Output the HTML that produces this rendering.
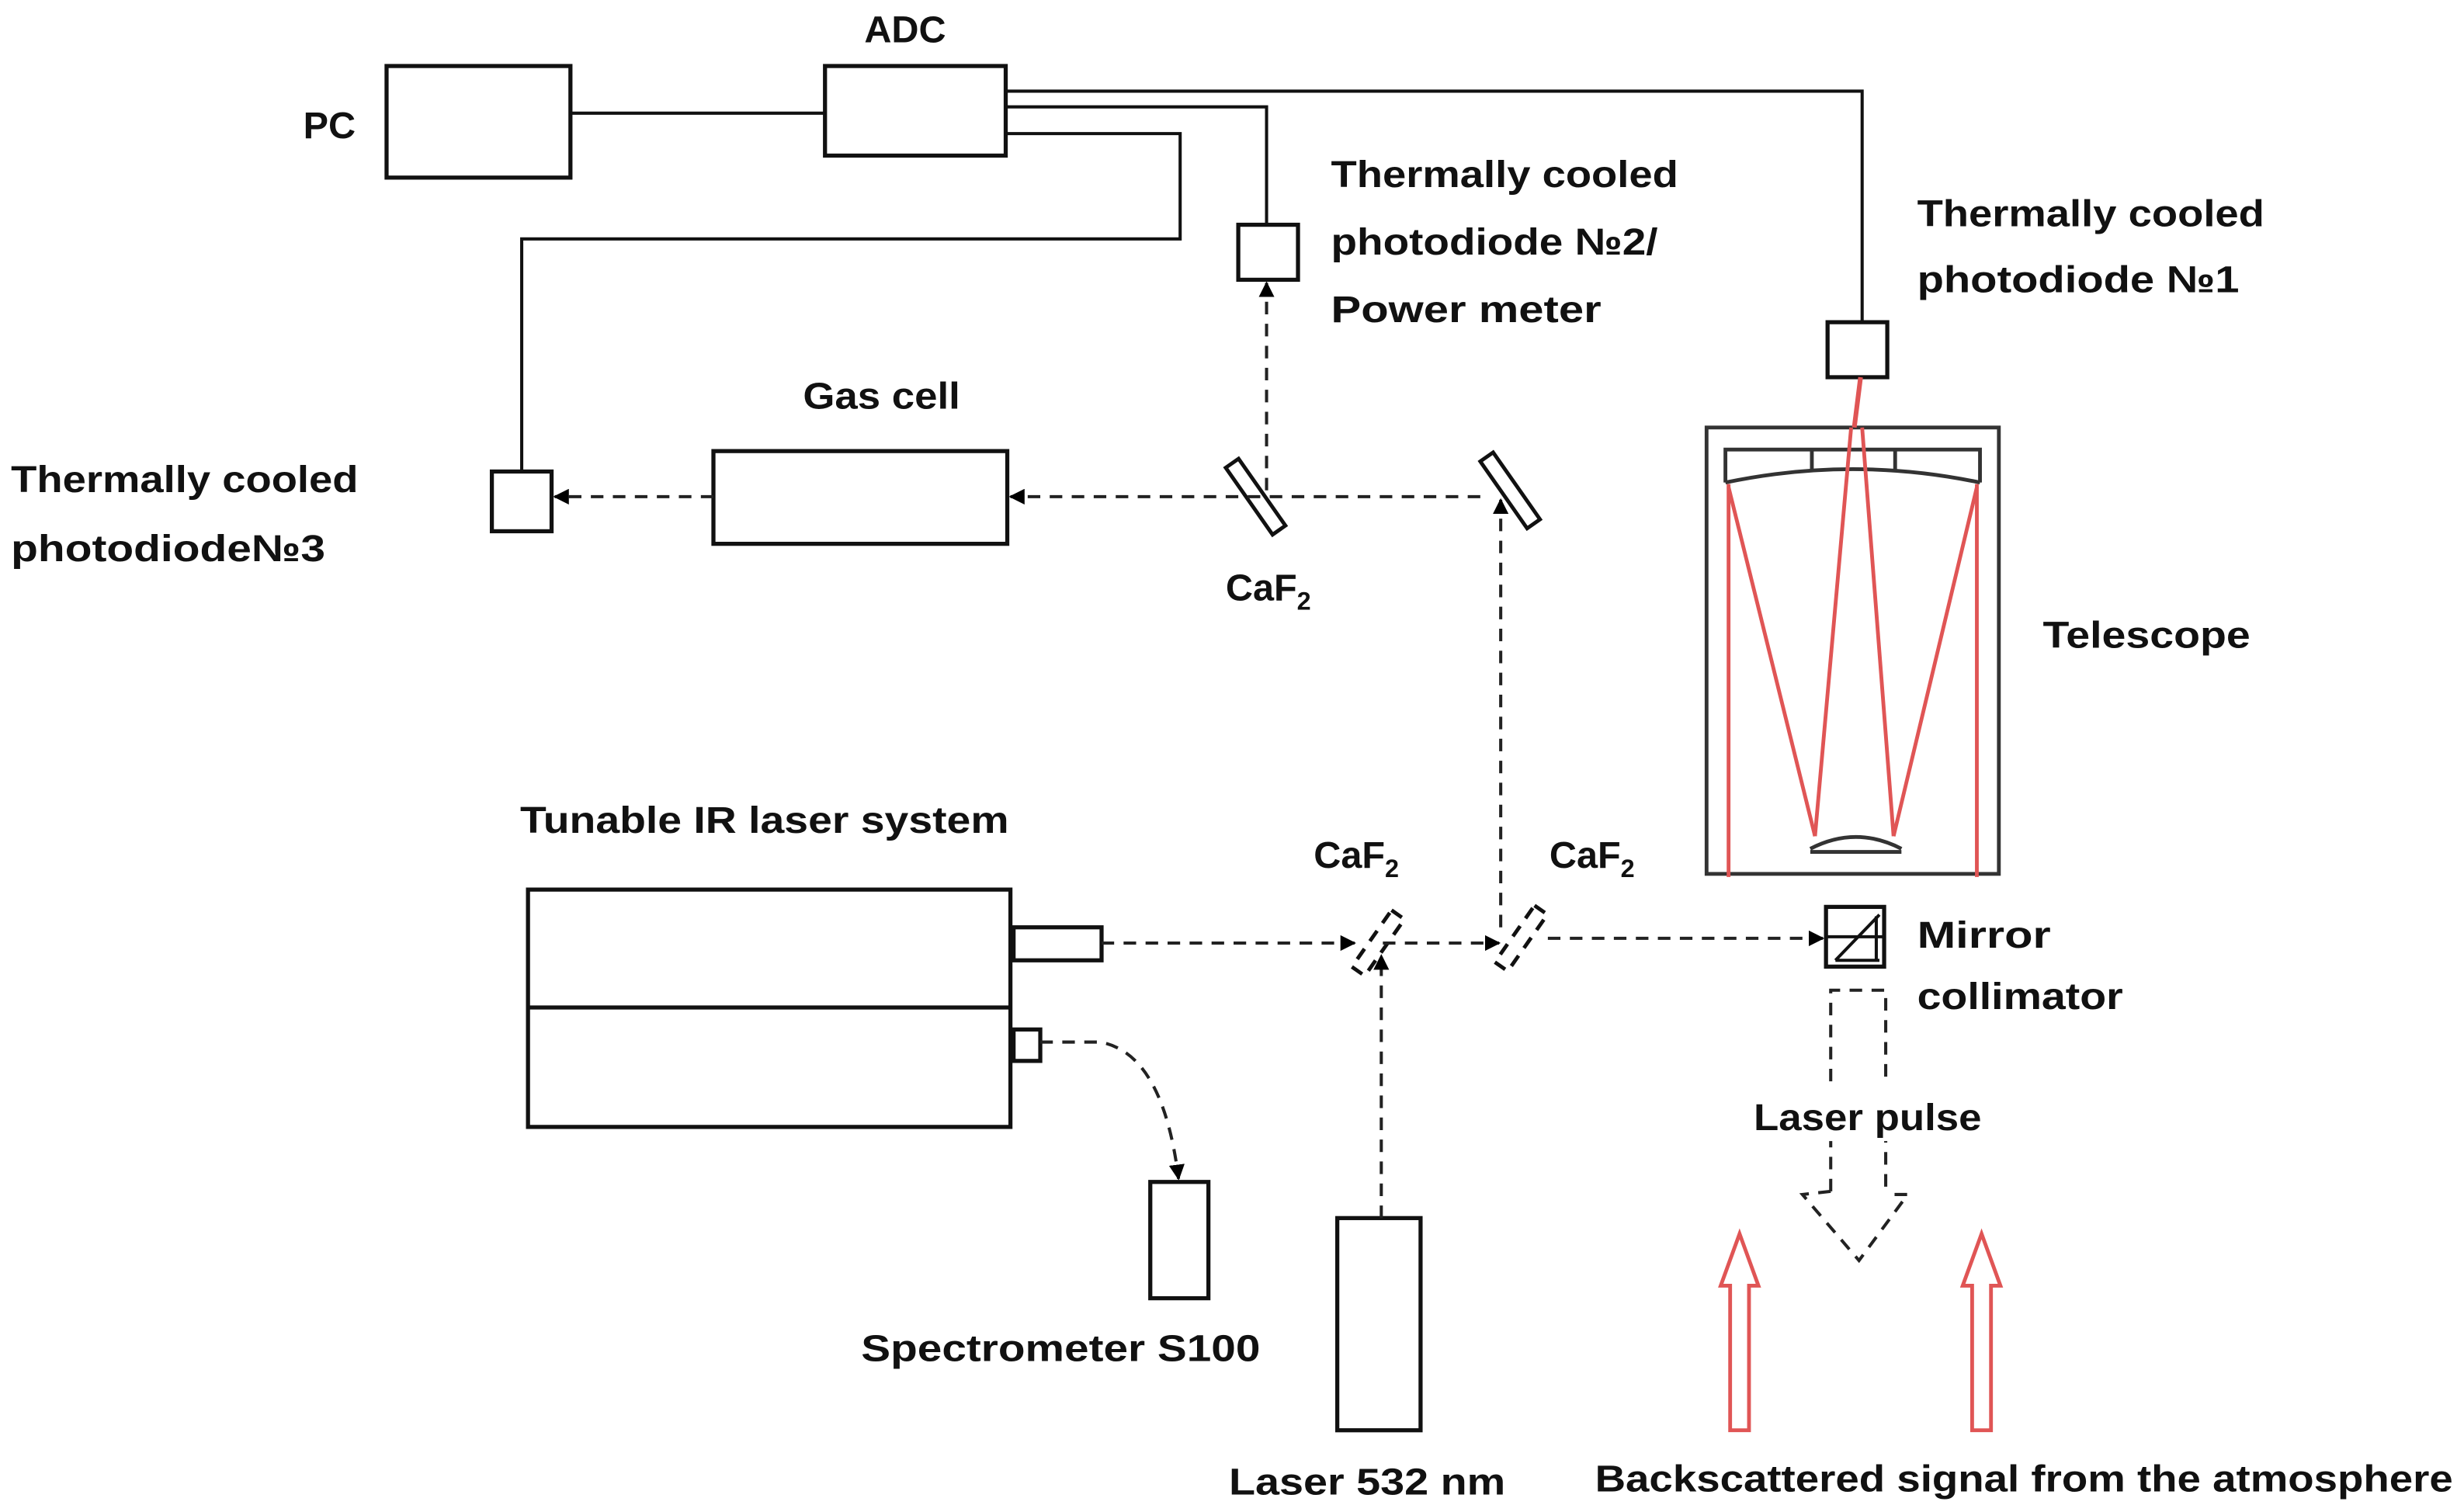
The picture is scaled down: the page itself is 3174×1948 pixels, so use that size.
<!DOCTYPE html>
<html><head><meta charset="utf-8"><style>
html,body{margin:0;padding:0;background:#fff;width:3174px;height:1948px;overflow:hidden}
svg{display:block}
text{font-family:"Liberation Sans",sans-serif;font-weight:bold;fill:#111}
</style></head><body>
<svg width="3174" height="1948" viewBox="0 0 1568 962" preserveAspectRatio="none">
<defs>
<marker id="a" markerWidth="10" markerHeight="10" refX="9" refY="5" orient="auto" markerUnits="userSpaceOnUse"><path d="M0,0 L10,5 L0,10 z" fill="#000"/></marker>
</defs>
<g fill="none" stroke="#111" stroke-width="2.6">
<rect x="246" y="42" width="117" height="71"/>
<rect x="525" y="42" width="115" height="57"/>
<rect x="454" y="287" width="187" height="59"/>
<rect x="336" y="566" width="307" height="151"/>
<line x1="336" y1="641" x2="643" y2="641"/>
<rect x="645" y="590" width="56" height="21"/>
<rect x="645" y="655" width="17" height="20"/>
<rect x="732" y="752" width="37" height="74"/>
<rect x="851" y="775" width="53" height="135"/>
<rect x="788" y="143" width="38" height="35"/>
<rect x="1163" y="205" width="38" height="35"/>
<rect x="313" y="300" width="38" height="38"/>
<rect x="1162" y="577" width="37" height="38"/>
</g>
<g fill="none" stroke="#111" stroke-width="2">
<line x1="363" y1="72" x2="525" y2="72"/>
<polyline points="640,58 1185,58 1185,205"/>
<polyline points="640,68 806,68 806,143"/>
<polyline points="640,85 751,85 751,152 332,152 332,300"/>
<line x1="1162" y1="596" x2="1199" y2="596"/>
<line x1="1168" y1="611" x2="1196" y2="582"/>
<line x1="1168" y1="611" x2="1196" y2="611"/>
<line x1="1194" y1="583" x2="1194" y2="611"/>
</g>
<rect x="794" y="290" width="10" height="52" transform="rotate(-35 799 316)" fill="none" stroke="#111" stroke-width="2.4"/>
<rect x="956" y="286" width="10" height="52" transform="rotate(-35 961 312)" fill="none" stroke="#111" stroke-width="2.4"/>
<rect x="872" y="578" width="10" height="44" transform="rotate(35 877 600)" fill="none" stroke="#111" stroke-width="2.4" stroke-dasharray="8 6"/>
<rect x="963" y="575" width="10" height="44" transform="rotate(35 968 597)" fill="none" stroke="#111" stroke-width="2.4" stroke-dasharray="8 6"/>
<g fill="none" stroke="#222" stroke-width="2" stroke-dasharray="8 6">
<line x1="942" y1="316" x2="643" y2="316" marker-end="url(#a)"/>
<line x1="454" y1="316" x2="353" y2="316" marker-end="url(#a)"/>
<line x1="806" y1="312" x2="806" y2="180" marker-end="url(#a)"/>
<line x1="955" y1="590" x2="955" y2="318" marker-end="url(#a)"/>
<line x1="701" y1="600" x2="862" y2="600" marker-end="url(#a)"/>
<line x1="880" y1="600" x2="954" y2="600" marker-end="url(#a)"/>
<line x1="985" y1="597" x2="1160" y2="597" marker-end="url(#a)"/>
<line x1="879" y1="775" x2="879" y2="608" marker-end="url(#a)"/>
<path d="M662,663 L700,663 Q740,670 750,750" marker-end="url(#a)"/>
<polyline points="1165,758 1165,630 1200,630 1200,758"/>
<polyline points="1165,758 1147,760 1183,802 1214,760 1200,760"/>
</g>
<rect x="1112" y="690" width="152" height="36" fill="#fff"/>
<g fill="none" stroke="#333" stroke-width="2.4">
<rect x="1086" y="272" width="186" height="284"/>
<path d="M1098,307 L1098,286 L1260,286 L1260,307"/>
<line x1="1153" y1="286" x2="1153" y2="300"/>
<line x1="1206" y1="286" x2="1206" y2="300"/>
<path d="M1098,307 Q1179,290 1260,307"/>
<path d="M1152,542 L1210,542 M1152,540 Q1181,525 1210,540"/>
</g>
<g fill="none" stroke="#e05555" stroke-width="2.4">
<line x1="1100" y1="308" x2="1100" y2="558"/>
<line x1="1258" y1="308" x2="1258" y2="558"/>
<line x1="1100" y1="310" x2="1155" y2="532"/>
<line x1="1258" y1="310" x2="1205" y2="532"/>
<line x1="1155" y1="532" x2="1178" y2="272"/>
<line x1="1205" y1="532" x2="1185" y2="272"/>
<line x1="1184" y1="240" x2="1180" y2="272" stroke-width="3"/>
<path d="M1101,910 L1101,818 L1095,818 L1107,785 L1119,818 L1113,818 L1113,910 Z"/>
<path d="M1255,910 L1255,818 L1249,818 L1261,785 L1273,818 L1267,818 L1267,910 Z"/>
</g>
<g font-size="24">
<text x="193" y="88">PC</text>
<text x="550" y="27">ADC</text>
<text x="847" y="119" textLength="221" lengthAdjust="spacingAndGlyphs">Thermally cooled</text>
<text x="847" y="162" textLength="208" lengthAdjust="spacingAndGlyphs">photodiode №2/</text>
<text x="847" y="205" textLength="172" lengthAdjust="spacingAndGlyphs">Power meter</text>
<text x="1220" y="144" textLength="221" lengthAdjust="spacingAndGlyphs">Thermally cooled</text>
<text x="1220" y="186" textLength="205" lengthAdjust="spacingAndGlyphs">photodiode №1</text>
<text x="7" y="313" textLength="221" lengthAdjust="spacingAndGlyphs">Thermally cooled</text>
<text x="7" y="357" textLength="200" lengthAdjust="spacingAndGlyphs">photodiode№3</text>
<text x="511" y="260" textLength="100" lengthAdjust="spacingAndGlyphs">Gas cell</text>
<text x="780" y="382">CaF<tspan font-size="16" dy="6">2</tspan></text>
<text x="836" y="552">CaF<tspan font-size="16" dy="6">2</tspan></text>
<text x="986" y="552">CaF<tspan font-size="16" dy="6">2</tspan></text>
<text x="1300" y="412" textLength="132" lengthAdjust="spacingAndGlyphs">Telescope</text>
<text x="331" y="530" textLength="311" lengthAdjust="spacingAndGlyphs">Tunable IR laser system</text>
<text x="1220" y="603" textLength="85" lengthAdjust="spacingAndGlyphs">Mirror</text>
<text x="1220" y="642" textLength="131" lengthAdjust="spacingAndGlyphs">collimator</text>
<text x="1116" y="719" textLength="145" lengthAdjust="spacingAndGlyphs">Laser pulse</text>
<text x="548" y="866" textLength="254" lengthAdjust="spacingAndGlyphs">Spectrometer S100</text>
<text x="782" y="951" textLength="176" lengthAdjust="spacingAndGlyphs">Laser 532 nm</text>
<text x="1015" y="949" textLength="546" lengthAdjust="spacingAndGlyphs">Backscattered signal from the atmosphere</text>
</g>
</svg>
</body></html>
